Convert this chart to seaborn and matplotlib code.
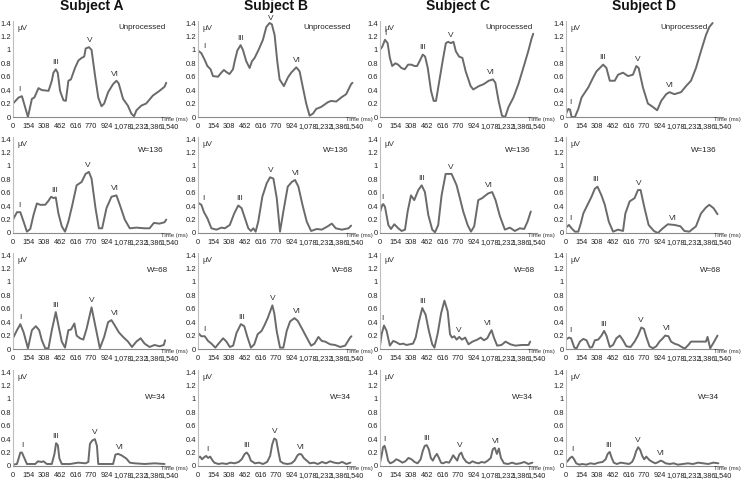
import numpy as np
import pandas as pd
import matplotlib
matplotlib.use("Agg")
import matplotlib.pyplot as plt
import seaborn as sns

# panel names
subjects = ["A", "B", "C", "D"]
conditions = ["Unprocessed", "W=136", "W=68", "W=34"]
peak_names = ["I", "III", "V", "VI"]

x_ticks = [0, 154, 308, 462, 616, 770, 924, 1078, 1232, 1386, 1540]
x_tick_labels = ["0", "154", "308", "462", "616", "770", "924", "1,078", "1,232", "1,386", "1,540"]
y_ticks = [0, 0.2, 0.4, 0.6, 0.8, 1.0, 1.2, 1.4]
y_tick_labels = ["0", "0.2", "0.4", "0.6", "0.8", "1", "1.2", "1.4"]

# ---- Unprocessed ----
t_A_raw = [0, 55, 88, 147, 186, 210, 251, 285, 350, 382, 398, 421, 440, 463, 496, 520, 545, 570, 610, 643, 675, 701, 715, 747, 773, 806, 839, 871, 897, 936, 985, 1018, 1040, 1083, 1130, 1165, 1191, 1215, 1263, 1310, 1377, 1442, 1491, 1508]
uv_A_raw = [0.20, 0.29, 0.31, 0.0, 0.27, 0.29, 0.43, 0.40, 0.39, 0.54, 0.66, 0.71, 0.66, 0.39, 0.25, 0.24, 0.54, 0.56, 0.73, 0.84, 0.88, 0.90, 1.02, 1.04, 1.0, 0.63, 0.29, 0.16, 0.20, 0.37, 0.49, 0.54, 0.50, 0.27, 0.17, 0.05, 0.01, 0.10, 0.17, 0.20, 0.32, 0.39, 0.45, 0.51]
pk_A_raw = [65, 419, 757, 1002]

t_B_raw = [0, 33, 66, 92, 124, 147, 197, 229, 255, 288, 310, 344, 361, 387, 419, 442, 475, 508, 531, 557, 596, 639, 672, 704, 727, 754, 780, 803, 845, 885, 917, 967, 1000, 1032, 1065, 1098, 1131, 1163, 1212, 1278, 1311, 1360, 1409, 1458, 1507, 1520]
uv_B_raw = [0.99, 0.95, 0.85, 0.76, 0.71, 0.61, 0.60, 0.66, 0.70, 0.66, 0.64, 0.71, 0.83, 0.99, 1.07, 1.0, 0.83, 0.73, 0.83, 0.88, 1.0, 1.15, 1.34, 1.40, 1.38, 1.22, 0.83, 0.56, 0.46, 0.59, 0.66, 0.74, 0.68, 0.44, 0.20, 0.02, 0.05, 0.12, 0.15, 0.22, 0.24, 0.23, 0.29, 0.34, 0.49, 0.51]
pk_B_raw = [66, 419, 712, 977]

t_C_raw = [0, 23, 49, 75, 97, 120, 152, 178, 211, 243, 276, 308, 340, 365, 389, 421, 444, 470, 502, 528, 551, 584, 616, 648, 671, 697, 723, 746, 778, 811, 843, 892, 918, 973, 1021, 1070, 1112, 1135, 1167, 1200, 1232, 1265, 1313, 1362, 1410, 1459, 1492, 1508]
uv_C_raw = [1.0, 1.05, 1.15, 1.10, 0.88, 0.76, 0.80, 0.78, 0.73, 0.71, 0.78, 0.78, 0.76, 0.76, 0.83, 0.93, 0.90, 0.73, 0.39, 0.24, 0.24, 0.54, 0.83, 1.10, 1.12, 1.10, 1.12, 0.98, 0.90, 0.88, 0.68, 0.46, 0.41, 0.46, 0.49, 0.54, 0.56, 0.51, 0.24, 0.02, 0.0, 0.15, 0.29, 0.49, 0.73, 0.98, 1.17, 1.24]
pk_C_raw = [49, 421, 697, 1092]

t_D_raw = [0, 23, 40, 55, 88, 121, 153, 219, 268, 300, 333, 366, 398, 431, 480, 512, 561, 610, 659, 692, 715, 757, 806, 855, 897, 937, 986, 1018, 1067, 1132, 1181, 1230, 1279, 1328, 1377, 1410, 1443]
uv_D_raw = [0.05, 0.12, 0.11, 0.0, 0.0, 0.12, 0.29, 0.44, 0.59, 0.68, 0.73, 0.78, 0.73, 0.54, 0.54, 0.63, 0.66, 0.61, 0.63, 0.76, 0.73, 0.44, 0.20, 0.15, 0.10, 0.24, 0.34, 0.37, 0.34, 0.37, 0.46, 0.54, 0.73, 0.98, 1.22, 1.34, 1.40]
pk_D_raw = [39, 356, 709, 1018]

# ---- W=136 ----
t_A_136 = [0, 39, 72, 104, 137, 170, 202, 235, 268, 317, 349, 375, 398, 421, 447, 480, 512, 545, 584, 626, 675, 714, 747, 773, 812, 845, 877, 920, 969, 1018, 1051, 1100, 1149, 1214, 1295, 1344, 1386, 1442, 1491, 1508]
uv_A_136 = [0.20, 0.31, 0.31, 0.17, 0.02, 0.06, 0.27, 0.44, 0.42, 0.42, 0.48, 0.54, 0.52, 0.53, 0.29, 0.10, 0.02, 0.17, 0.42, 0.71, 0.76, 0.88, 0.91, 0.81, 0.37, 0.07, 0.07, 0.37, 0.54, 0.56, 0.42, 0.20, 0.07, 0.08, 0.07, 0.07, 0.15, 0.14, 0.16, 0.20]
pk_A_136 = [65, 408, 740, 1002]

t_B_136 = [0, 33, 59, 92, 132, 181, 231, 264, 313, 356, 396, 429, 462, 495, 521, 544, 567, 593, 633, 676, 709, 742, 775, 807, 840, 883, 923, 955, 988, 1028, 1070, 1113, 1169, 1218, 1277, 1317, 1356, 1415, 1481, 1507]
uv_B_136 = [0.45, 0.42, 0.31, 0.22, 0.07, 0.05, 0.08, 0.07, 0.12, 0.29, 0.41, 0.37, 0.22, 0.07, 0.03, 0.07, 0.02, 0.17, 0.54, 0.74, 0.83, 0.81, 0.52, 0.02, 0.32, 0.69, 0.76, 0.79, 0.69, 0.42, 0.17, 0.03, 0.06, 0.05, 0.10, 0.14, 0.07, 0.05, 0.07, 0.11]
pk_B_136 = [50, 412, 712, 966]

t_C_136 = [0, 23, 33, 49, 82, 108, 141, 180, 213, 246, 272, 305, 337, 377, 410, 442, 475, 514, 541, 573, 606, 646, 678, 704, 731, 754, 786, 819, 862, 895, 927, 967, 1006, 1039, 1065, 1104, 1137, 1180, 1229, 1278, 1327, 1376, 1419, 1452, 1484]
uv_C_136 = [0.31, 0.42, 0.43, 0.39, 0.12, 0.06, 0.13, 0.07, 0.03, 0.05, 0.32, 0.56, 0.49, 0.64, 0.71, 0.61, 0.27, 0.05, 0.01, 0.12, 0.56, 0.88, 0.88, 0.88, 0.79, 0.71, 0.52, 0.32, 0.12, 0.02, 0.10, 0.49, 0.52, 0.56, 0.59, 0.61, 0.49, 0.25, 0.05, 0.08, 0.03, 0.07, 0.06, 0.17, 0.32]
pk_C_136 = [22, 410, 695, 1072]

t_D_136 = [0, 29, 55, 88, 121, 147, 170, 202, 251, 284, 310, 349, 382, 421, 463, 512, 561, 584, 626, 675, 708, 734, 773, 813, 865, 904, 953, 1002, 1067, 1126, 1165, 1214, 1279, 1328, 1377, 1410, 1452, 1491]
uv_D_136 = [0.08, 0.12, 0.07, 0.02, 0.02, 0.15, 0.29, 0.39, 0.54, 0.66, 0.69, 0.56, 0.42, 0.17, 0.02, 0.05, 0.03, 0.29, 0.47, 0.52, 0.64, 0.64, 0.37, 0.12, 0.03, 0.0, 0.07, 0.13, 0.12, 0.10, 0.03, 0.02, 0.10, 0.29, 0.38, 0.42, 0.37, 0.28]
pk_D_136 = [45, 290, 718, 1051]

# ---- W=68 ----
t_A_68 = [0, 39, 72, 104, 147, 186, 225, 258, 284, 317, 349, 382, 421, 454, 480, 512, 545, 571, 604, 626, 659, 692, 724, 773, 812, 855, 897, 936, 969, 1002, 1041, 1083, 1132, 1171, 1214, 1256, 1295, 1344, 1393, 1442, 1484, 1497]
uv_A_68 = [0.16, 0.28, 0.37, 0.25, 0.01, 0.28, 0.34, 0.28, 0.13, 0.01, 0.01, 0.28, 0.55, 0.30, 0.11, 0.02, 0.28, 0.29, 0.38, 0.20, 0.16, 0.14, 0.30, 0.62, 0.33, 0.01, 0.18, 0.40, 0.43, 0.35, 0.25, 0.18, 0.11, 0.03, 0.11, 0.16, 0.08, 0.03, 0.06, 0.04, 0.06, 0.13]
pk_A_68 = [72, 421, 775, 1002]

t_B_68 = [0, 33, 66, 99, 132, 171, 197, 247, 280, 313, 346, 379, 422, 455, 488, 521, 554, 587, 626, 653, 686, 732, 751, 774, 807, 840, 873, 906, 949, 981, 1021, 1070, 1113, 1146, 1185, 1218, 1251, 1300, 1349, 1399, 1448, 1497, 1510]
uv_B_68 = [0.24, 0.19, 0.19, 0.12, 0.08, 0.02, 0.07, 0.16, 0.11, 0.03, 0.05, 0.24, 0.37, 0.34, 0.17, 0.02, 0.07, 0.22, 0.27, 0.35, 0.46, 0.65, 0.53, 0.27, 0.02, 0.02, 0.27, 0.41, 0.46, 0.42, 0.31, 0.17, 0.05, 0.08, 0.18, 0.12, 0.11, 0.07, 0.06, 0.03, 0.05, 0.17, 0.19]
pk_B_68 = [60, 430, 735, 975]

t_C_68 = [0, 16, 39, 65, 97, 130, 162, 195, 228, 260, 293, 325, 351, 383, 416, 449, 481, 514, 536, 569, 601, 634, 666, 689, 708, 731, 754, 780, 806, 838, 871, 910, 958, 991, 1023, 1056, 1079, 1098, 1121, 1153, 1196, 1235, 1283, 1332, 1397, 1462, 1478]
uv_C_68 = [0.05, 0.22, 0.35, 0.27, 0.05, 0.12, 0.10, 0.07, 0.08, 0.06, 0.07, 0.08, 0.17, 0.41, 0.61, 0.51, 0.27, 0.07, 0.02, 0.24, 0.53, 0.72, 0.56, 0.22, 0.17, 0.19, 0.14, 0.18, 0.14, 0.17, 0.07, 0.11, 0.14, 0.17, 0.13, 0.16, 0.23, 0.28, 0.17, 0.05, 0.06, 0.11, 0.07, 0.05, 0.06, 0.06, 0.11]
pk_C_68 = [26, 416, 775, 1066]

t_D_68 = [0, 29, 50, 82, 104, 137, 170, 202, 235, 258, 284, 317, 349, 375, 398, 431, 463, 496, 529, 561, 594, 636, 675, 708, 741, 767, 790, 822, 855, 888, 920, 953, 976, 1008, 1034, 1067, 1106, 1149, 1172, 1204, 1230, 1296, 1377, 1393, 1419, 1458, 1491]
uv_D_68 = [0.14, 0.17, 0.16, 0.02, 0.01, 0.11, 0.15, 0.13, 0.02, 0.03, 0.13, 0.14, 0.20, 0.27, 0.20, 0.03, 0.06, 0.16, 0.20, 0.13, 0.04, 0.03, 0.11, 0.20, 0.32, 0.30, 0.18, 0.04, 0.01, 0.04, 0.11, 0.16, 0.20, 0.19, 0.11, 0.08, 0.06, 0.02, 0.01, 0.06, 0.11, 0.11, 0.11, 0.18, 0.01, 0.11, 0.20]
pk_D_68 = [45, 370, 738, 990]

# ---- W=34 ----
t_A_34 = [0, 39, 55, 72, 88, 114, 137, 186, 219, 245, 278, 300, 333, 382, 408, 424, 441, 457, 480, 561, 643, 714, 741, 757, 780, 806, 826, 839, 904, 985, 1008, 1034, 1067, 1116, 1149, 1198, 1295, 1393, 1491]
uv_A_34 = [0.02, 0.03, 0.11, 0.20, 0.20, 0.11, 0.03, 0.03, 0.03, 0.07, 0.06, 0.07, 0.03, 0.03, 0.18, 0.34, 0.31, 0.11, 0.03, 0.03, 0.05, 0.04, 0.06, 0.33, 0.38, 0.40, 0.30, 0.03, 0.03, 0.03, 0.17, 0.18, 0.16, 0.11, 0.05, 0.04, 0.03, 0.04, 0.03]
pk_A_34 = [88, 424, 800, 1050]

t_B_34 = [0, 20, 40, 60, 80, 100, 120, 140, 160, 200, 240, 280, 320, 360, 400, 430, 460, 480, 500, 520, 560, 600, 640, 680, 710, 730, 750, 770, 790, 810, 840, 880, 920, 950, 980, 1000, 1020, 1040, 1070, 1100, 1140, 1180, 1220, 1260, 1300, 1340, 1380, 1420, 1460, 1500]
uv_B_34 = [0.12, 0.14, 0.10, 0.13, 0.15, 0.12, 0.14, 0.09, 0.05, 0.03, 0.04, 0.03, 0.05, 0.04, 0.06, 0.10, 0.18, 0.20, 0.16, 0.08, 0.04, 0.05, 0.03, 0.06, 0.15, 0.32, 0.41, 0.39, 0.22, 0.07, 0.04, 0.03, 0.04, 0.08, 0.16, 0.18, 0.17, 0.12, 0.08, 0.04, 0.05, 0.03, 0.06, 0.04, 0.07, 0.05, 0.04, 0.06, 0.03, 0.05]
pk_B_34 = [90, 480, 755, 1010]

t_C_34 = [0, 15, 30, 45, 60, 80, 100, 130, 160, 190, 220, 250, 280, 310, 340, 370, 400, 420, 440, 460, 480, 500, 520, 540, 560, 580, 600, 620, 650, 680, 700, 720, 740, 760, 780, 800, 820, 850, 880, 910, 940, 970, 1000, 1030, 1060, 1090, 1110, 1130, 1150, 1170, 1190, 1220, 1260, 1300, 1340, 1380, 1420, 1460, 1500]
uv_C_34 = [0.05, 0.15, 0.28, 0.30, 0.22, 0.08, 0.04, 0.06, 0.10, 0.08, 0.05, 0.07, 0.12, 0.10, 0.06, 0.04, 0.10, 0.22, 0.30, 0.31, 0.25, 0.12, 0.08, 0.14, 0.18, 0.12, 0.05, 0.04, 0.06, 0.05, 0.10, 0.16, 0.12, 0.08, 0.17, 0.20, 0.12, 0.06, 0.04, 0.07, 0.05, 0.04, 0.06, 0.05, 0.08, 0.12, 0.25, 0.27, 0.18, 0.26, 0.12, 0.04, 0.03, 0.05, 0.03, 0.04, 0.06, 0.03, 0.05]
pk_C_34 = [40, 455, 790, 1140]

t_D_34 = [0, 20, 40, 60, 80, 100, 130, 160, 200, 240, 280, 320, 360, 390, 410, 430, 450, 470, 500, 540, 580, 620, 650, 670, 690, 710, 730, 750, 770, 790, 820, 850, 880, 910, 930, 950, 980, 1020, 1060, 1100, 1150, 1200, 1250, 1300, 1350, 1400, 1450, 1500]
uv_D_34 = [0.05, 0.08, 0.12, 0.14, 0.10, 0.04, 0.02, 0.03, 0.02, 0.04, 0.03, 0.05, 0.06, 0.10, 0.18, 0.21, 0.12, 0.05, 0.03, 0.05, 0.04, 0.03, 0.06, 0.12, 0.22, 0.28, 0.24, 0.15, 0.10, 0.14, 0.09, 0.06, 0.04, 0.06, 0.08, 0.07, 0.04, 0.03, 0.04, 0.02, 0.03, 0.04, 0.03, 0.05, 0.04, 0.03, 0.05, 0.04]
pk_D_34 = [60, 424, 710, 930]

series = {
    ("A", "Unprocessed"): (t_A_raw, uv_A_raw, pk_A_raw),
    ("B", "Unprocessed"): (t_B_raw, uv_B_raw, pk_B_raw),
    ("C", "Unprocessed"): (t_C_raw, uv_C_raw, pk_C_raw),
    ("D", "Unprocessed"): (t_D_raw, uv_D_raw, pk_D_raw),
    ("A", "W=136"): (t_A_136, uv_A_136, pk_A_136),
    ("B", "W=136"): (t_B_136, uv_B_136, pk_B_136),
    ("C", "W=136"): (t_C_136, uv_C_136, pk_C_136),
    ("D", "W=136"): (t_D_136, uv_D_136, pk_D_136),
    ("A", "W=68"): (t_A_68, uv_A_68, pk_A_68),
    ("B", "W=68"): (t_B_68, uv_B_68, pk_B_68),
    ("C", "W=68"): (t_C_68, uv_C_68, pk_C_68),
    ("D", "W=68"): (t_D_68, uv_D_68, pk_D_68),
    ("A", "W=34"): (t_A_34, uv_A_34, pk_A_34),
    ("B", "W=34"): (t_B_34, uv_B_34, pk_B_34),
    ("C", "W=34"): (t_C_34, uv_C_34, pk_C_34),
    ("D", "W=34"): (t_D_34, uv_D_34, pk_D_34),
}

# long-form table for seaborn
rows = []
for (subj, cond), (t, v, _) in series.items():
    for ti, vi in zip(t, v):
        rows.append({"subject": subj, "condition": cond, "time": ti, "uv": vi})
df = pd.DataFrame(rows)

sns.set_style("white")
plt.rcParams["font.family"] = ["Liberation Sans", "DejaVu Sans"]

fig = plt.figure(figsize=(7.43, 4.8), dpi=100)

W, H = 743, 480
col_left_px = [13, 198, 380, 566]
row_bottom_px = [117, 233, 349, 466]
ax_w_px, ax_h_px = 157, 96
# where the condition label sits (axes fraction), per row
cond_pos = [(0.97, 0.93, "right"), (0.88, 0.86, "center"), (0.92, 0.82, "center"), (0.91, 0.71, "center")]

line_color = "#6a6a6a"

for r, cond in enumerate(conditions):
    for c, subj in enumerate(subjects):
        ax = fig.add_axes([col_left_px[c] / W, 1 - row_bottom_px[r] / H, ax_w_px / W, ax_h_px / H])
        sub = df[(df.subject == subj) & (df.condition == cond)]
        sns.lineplot(data=sub, x="time", y="uv", ax=ax, color=line_color,
                     linewidth=1.4, estimator=None, sort=False)
        ax.set_xlim(0, 1545)
        ax.set_ylim(0, 1.43)
        ax.set_xticks(x_ticks)
        ax.set_xticklabels(x_tick_labels, fontsize=5.3)
        ax.set_yticks(y_ticks)
        ax.set_yticklabels(y_tick_labels, fontsize=5.5)
        ax.tick_params(axis="x", length=0, pad=4, colors="#222222")
        ax.tick_params(axis="y", length=0, pad=1.5, colors="#222222")
        ax.set_xlabel("")
        ax.set_ylabel("")
        for s in ["top", "right"]:
            ax.spines[s].set_visible(False)
        ax.spines["left"].set_color("#bdbdbd")
        ax.spines["bottom"].set_color("#8a8a8a")
        ax.spines["left"].set_linewidth(0.8)
        ax.spines["bottom"].set_linewidth(0.8)

        ax.text(0.03, 0.92, "µV", transform=ax.transAxes, fontsize=5.8,
                ha="left", va="center", color="#333333")
        cx, cy, ha = cond_pos[r]
        if subj == "D" and r == 0:
            cx = 0.9
        ax.text(cx, cy, cond, transform=ax.transAxes, fontsize=5.8,
                ha=ha, va="center", color="#222222")
        ax.text(1.03, -0.005, "Time (ms)", transform=ax.transAxes, fontsize=4.3,
                ha="center", va="top", color="#333333")

        # peak labels above the trace
        t, v, pk = series[(subj, cond)]
        tt = np.asarray(t, dtype=float)
        vv = np.asarray(v, dtype=float)
        for name, lat in zip(peak_names, pk):
            near = vv[(tt >= lat - 35) & (tt <= lat + 35)]
            top = near.max() if len(near) else np.interp(lat, tt, vv)
            ax.text(lat, min(top + 0.1, 1.47), name, fontsize=6, ha="center",
                    va="center", color="#333333")

        if r == 0:
            fig.text((col_left_px[c] + ax_w_px / 2) / W, 1 - 6 / H, "Subject " + subj,
                     fontsize=10, fontweight="bold", ha="center", va="center",
                     color="#111111")

fig.savefig("out.png", dpi=100)
